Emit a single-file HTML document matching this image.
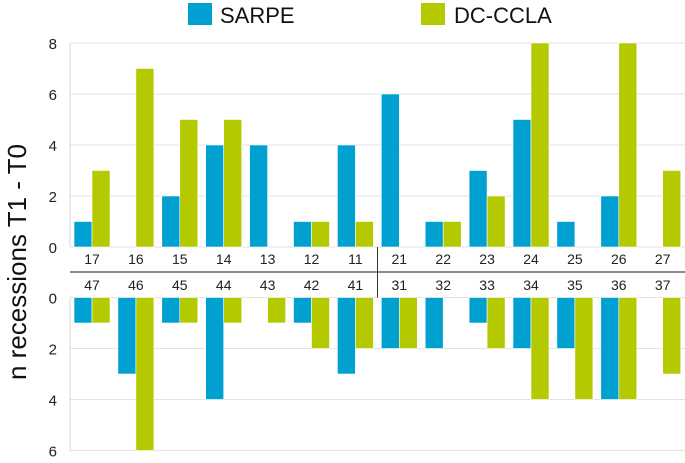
<!DOCTYPE html>
<html><head><meta charset="utf-8"><style>
body{margin:0;background:#fff;width:685px;height:458px;overflow:hidden;font-family:"Liberation Sans",sans-serif}
</style></head><body>
<svg id="c" width="685" height="458" font-family="Liberation Sans, sans-serif"></svg>
<script>
const upperTeeth=["17","16","15","14","13","12","11","21","22","23","24","25","26","27"];
const lowerTeeth=["47","46","45","44","43","42","41","31","32","33","34","35","36","37"];
const upperSarpe=[1,0,2,4,4,1,4,6,1,3,5,1,2,0];
const upperDc=[3,7,5,5,0,1,1,0,1,2,8,0,8,3];
const lowerSarpe=[1,3,1,4,0,1,3,2,2,1,2,2,4,0];
const lowerDc=[1,6,1,1,1,2,2,2,0,2,4,4,4,3];
const upperTicks=[0,2,4,6,8];
const lowerTicks=[0,2,4,6];
const svg=document.getElementById('c');const NS='http://www.w3.org/2000/svg';
function mk(t,a,p){const e=document.createElementNS(NS,t);for(const k in a)e.setAttribute(k,a[k]);(p||svg).appendChild(e);return e;}
const x0=70,pitch=43.9,bw=18,off=4,unit=25.5,uz=247,lz=297.5;
const yU=v=>uz-v*unit, yL=v=>lz+v*unit, xc=i=>x0+i*pitch;
const BLUE='#00a0d0',GREEN='#b5c900';
upperTicks.forEach(t=>{let g=mk('line',{x1:x0,x2:685,y1:yU(t),y2:yU(t),stroke:'#e2e2e2'});
let l=mk('text',{x:57,y:yU(t)+6,'text-anchor':'end','font-size':15,fill:'#222'});l.textContent=t;});
lowerTicks.forEach(t=>{let g=mk('line',{x1:x0,x2:685,y1:yL(t),y2:yL(t),stroke:'#e2e2e2'});
let l=mk('text',{x:57,y:yL(t)+6,'text-anchor':'end','font-size':15,fill:'#222'});l.textContent=t;});
mk('line',{x1:x0,x2:x0,y1:yU(8),y2:uz,stroke:'#d8d8d8'});
mk('line',{x1:x0,x2:x0,y1:lz,y2:yL(6),stroke:'#d8d8d8'});
mk('line',{x1:x0,x2:685,y1:272,y2:272,stroke:'#666','stroke-width':1.5});
mk('line',{x1:377.5,x2:377.5,y1:uz,y2:lz,stroke:'#333'});
function bar(x,y,h,c,n){const r=mk('rect',{x:x,y:y,width:bw,height:Math.max(h,0),fill:c,stroke:'#fff','stroke-width':0.6});}
upperTeeth.forEach((t,i)=>{
 const x=xc(i)+off;
 bar(x,yU(upperSarpe[i]),uz-yU(upperSarpe[i]),BLUE,'bar-sarpe-'+t);
 bar(x+bw,yU(upperDc[i]),uz-yU(upperDc[i]),GREEN,'bar-dcccla-'+t);
 let l=mk('text',{x:x+bw,y:264,'text-anchor':'middle','font-size':14,fill:'#222'});l.textContent=t;
});
lowerTeeth.forEach((t,i)=>{
 const x=xc(i)+off;
 bar(x,lz,yL(lowerSarpe[i])-lz,BLUE,'bar-sarpe-'+t);
 bar(x+bw,lz,yL(lowerDc[i])-lz,GREEN,'bar-dcccla-'+t);
 let l=mk('text',{x:x+bw,y:290,'text-anchor':'middle','font-size':14,fill:'#222'});l.textContent=t;
});
</script>
<svg style="position:absolute;left:0;top:0" width="685" height="458" font-family="Liberation Sans, sans-serif">
<g>
<rect x="188" y="3" width="24" height="22" fill="#00a0d0"/>
<text x="220" y="23" font-size="22" fill="#111">SARPE</text>
<rect x="421" y="3" width="24" height="22" fill="#b5c900"/>
<text x="454" y="23" font-size="22" fill="#111">DC-CCLA</text>
</g>
<text transform="translate(26,262) rotate(-90)" text-anchor="middle" font-size="26" fill="#111">n recessions T1 - T0</text>
</svg>
</body></html>
